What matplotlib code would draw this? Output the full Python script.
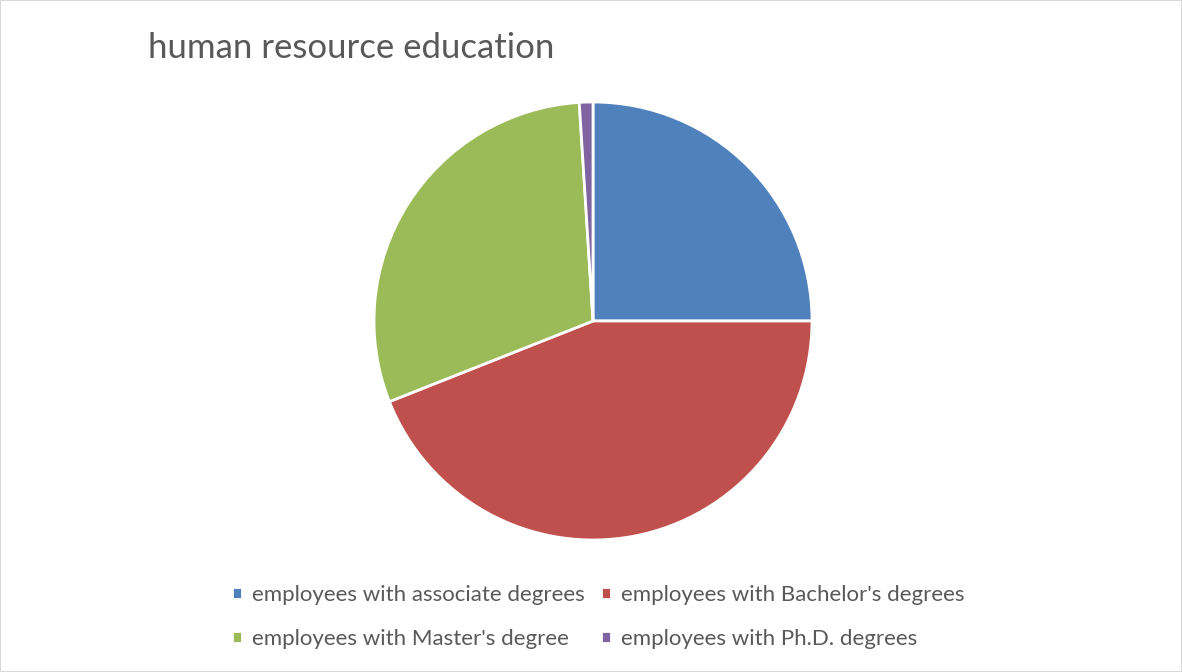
import matplotlib.pyplot as plt
from matplotlib.patches import Rectangle

labels = ["employees with associate degrees", "employees with Bachelor's degrees",
          "employees with Master's degree", "employees with Ph.D. degrees"]
values = [25, 44, 30, 1]
colors = ['#4f81bd', '#c0504d', '#9bbb59', '#8064a2']

plt.rcParams['font.family'] = ['Lato', 'DejaVu Sans']

fig = plt.figure(figsize=(11.82, 6.72), dpi=100)
fig.patches.append(Rectangle((0, 0), 1, 1, transform=fig.transFigure,
                             fill=False, edgecolor='#d9d9d9', linewidth=1.5))

# pie centred at (593, 321) px, radius ~219 px
r = 219
ax = fig.add_axes([(593 - r) / 1182, 1 - (321 + r) / 672, 2 * r / 1182, 2 * r / 672])
wedges, _ = ax.pie(values, colors=colors, startangle=90, counterclock=False,
                   wedgeprops=dict(edgecolor='white', linewidth=2))
ax.set_aspect('equal')
ax.set_xlim(-1, 1)
ax.set_ylim(-1, 1)

fig.text(148 / 1182, 1 - 48 / 672, 'human resource education', fontsize=25,
         color='#595959', va='center', ha='left')

# legend fills column-wise, so reorder to read row by row
order = [0, 2, 1, 3]
fig.legend([wedges[i] for i in order], [labels[i] for i in order], ncol=2, loc='center',
           bbox_to_anchor=(598 / 1182, 1 - 617 / 672),
           frameon=False, fontsize=16, labelcolor='#595959', handlelength=0.45, handleheight=0.45,
           handletextpad=0.45, columnspacing=0.75, labelspacing=1.1)

fig.savefig('out.png', dpi=100)
